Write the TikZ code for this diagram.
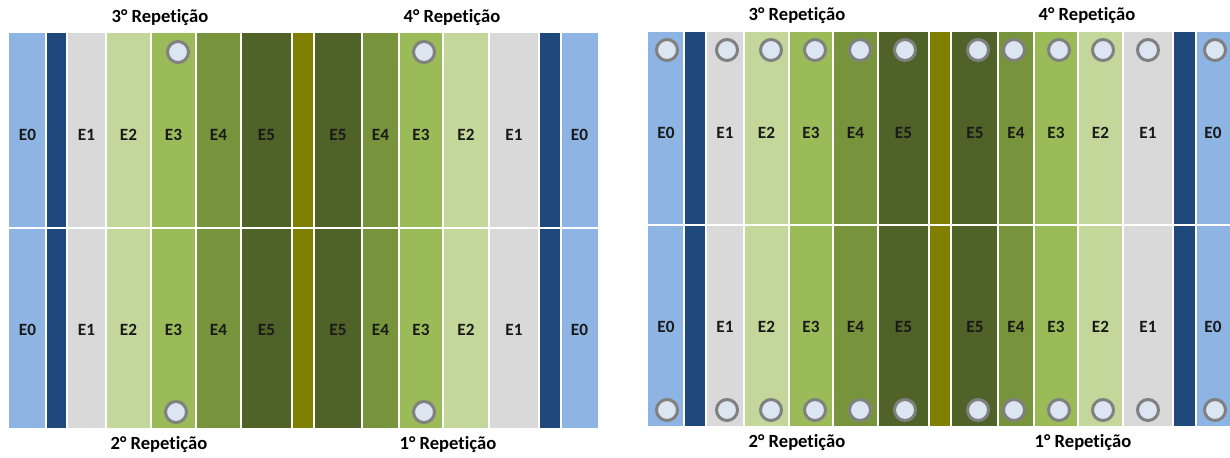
\documentclass[tikz,border=0pt]{standalone}
\usepackage{fontspec}
\setmainfont[Ligatures={NoCommon}]{Carlito}
\usepackage{tikz}
\usetikzlibrary{positioning}

% Strip colours
\definecolor{eZero}{HTML}{8DB4E2}
\definecolor{eBlue}{HTML}{1F497D}
\definecolor{eOne}{HTML}{D9D9D9}
\definecolor{eTwo}{HTML}{C4D79B}
\definecolor{eThree}{HTML}{9BBB59}
\definecolor{eFour}{HTML}{77933C}
\definecolor{eFive}{HTML}{4F6228}
\definecolor{eOlive}{HTML}{808000}
\definecolor{holeFill}{HTML}{DCE6F2}

\begin{document}
\begin{tikzpicture}[x=0.5pt, y=-0.5pt,
    sep/.style={draw=white, line width=0.6pt},
    lbl/.style={font=\fontsize{8.6}{10}\selectfont\bfseries, text=black!90},
    rep/.style={font=\fontsize{9.3}{11}\selectfont\bfseries},
    hole/.style={circle, fill=holeFill, draw=gray, line width=1.5pt,
      minimum size=10.5pt, inner sep=0pt}]
        \useasboundingbox (0,0) rectangle (1230,457);

        % Left field: strips
        \foreach \xa/\xb/\c in {9/46/eZero, 46/67/eBlue, 67/106/eOne, 106/151/eTwo,
            151/196/eThree, 196/241/eFour, 241/292/eFive, 292/314/eOlive,
            314/362/eFive, 362/399/eFour, 399/443/eThree, 443/489/eTwo,
            489/539/eOne, 539/561/eBlue, 561/598/eZero}
          \fill[\c] (\xa,33) rectangle (\xb,428);
        \foreach \x in {46,67,106,151,196,241,292,314,362,399,443,489,539,561}
          \draw[sep] (\x,33) -- (\x,428);
        \draw[sep, line width=1pt] (9,227.5) -- (598,227.5);

        % Left field: labels
        \foreach \x/\t [count=\i] in {27.5/E0, 86.5/E1, 128.5/E2, 173.5/E3, 218.5/E4,
            266.5/E5, 338/E5, 380.5/E4, 421/E3, 466/E2, 514/E1, 579.5/E0} {
          \node[lbl] (lt\i) at (\x,135) {\t};
          \node[lbl] (lb\i) at (\x,330) {\t};
        }

        % Left field: plots
        \node[hole] (lh1) at (178,52) {};
        \node[hole] (lh2) at (424,52) {};
        \node[hole] (lh3) at (176,412) {};
        \node[hole] (lh4) at (424,412) {};

        % Left field: repetitions
        \node[rep] (lrep3) at (160,18) {3° Repetição};
        \node[rep] (lrep4) at (452,18) {4° Repetição};
        \node[rep] (lrep2) at (159,445) {2° Repetição};
        \node[rep] (lrep1) at (448,445) {1° Repetição};

        % Right field: strips
        \foreach \xa/\xb/\c in {648/684/eZero, 684/706/eBlue, 706/744/eOne, 744/789/eTwo,
            789/833/eThree, 833/878/eFour, 878/929/eFive, 929/951/eOlive,
            951/998/eFive, 998/1034/eFour, 1034/1078/eThree, 1078/1123/eTwo,
            1123/1173/eOne, 1173/1196/eBlue, 1196/1232/eZero}
          \fill[\c] (\xa,32) rectangle (\xb,426);
        \foreach \x in {684,706,744,789,833,878,929,951,998,1034,1078,1123,1173,1196}
          \draw[sep] (\x,32) -- (\x,426);
        \draw[sep, line width=1pt] (648,225) -- (1232,225);

        % Right field: labels and plots
        \foreach \x/\t/\h [count=\i] in {666/E0/667, 725/E1/727, 766.5/E2/771,
            811/E3/815, 855.5/E4/860, 903.5/E5/905, 975/E5/978, 1016/E4/1014,
            1056/E3/1059, 1100.5/E2/1103, 1148/E1/1148, 1213/E0/1215} {
          \node[lbl] (rt\i) at (\x,133) {\t};
          \node[lbl] (rb\i) at (\x,327) {\t};
          \node[hole] (rht\i) at (\h,50) {};
          \node[hole] (rhb\i) at (\h,410) {};
        }

        % Right field: repetitions
        \node[rep] (rrep3) at (797,16) {3° Repetição};
        \node[rep] (rrep4) at (1087,16) {4° Repetição};
        \node[rep] (rrep2) at (797,443) {2° Repetição};
        \node[rep] (rrep1) at (1083,443) {1° Repetição};
\end{tikzpicture}
\end{document}
